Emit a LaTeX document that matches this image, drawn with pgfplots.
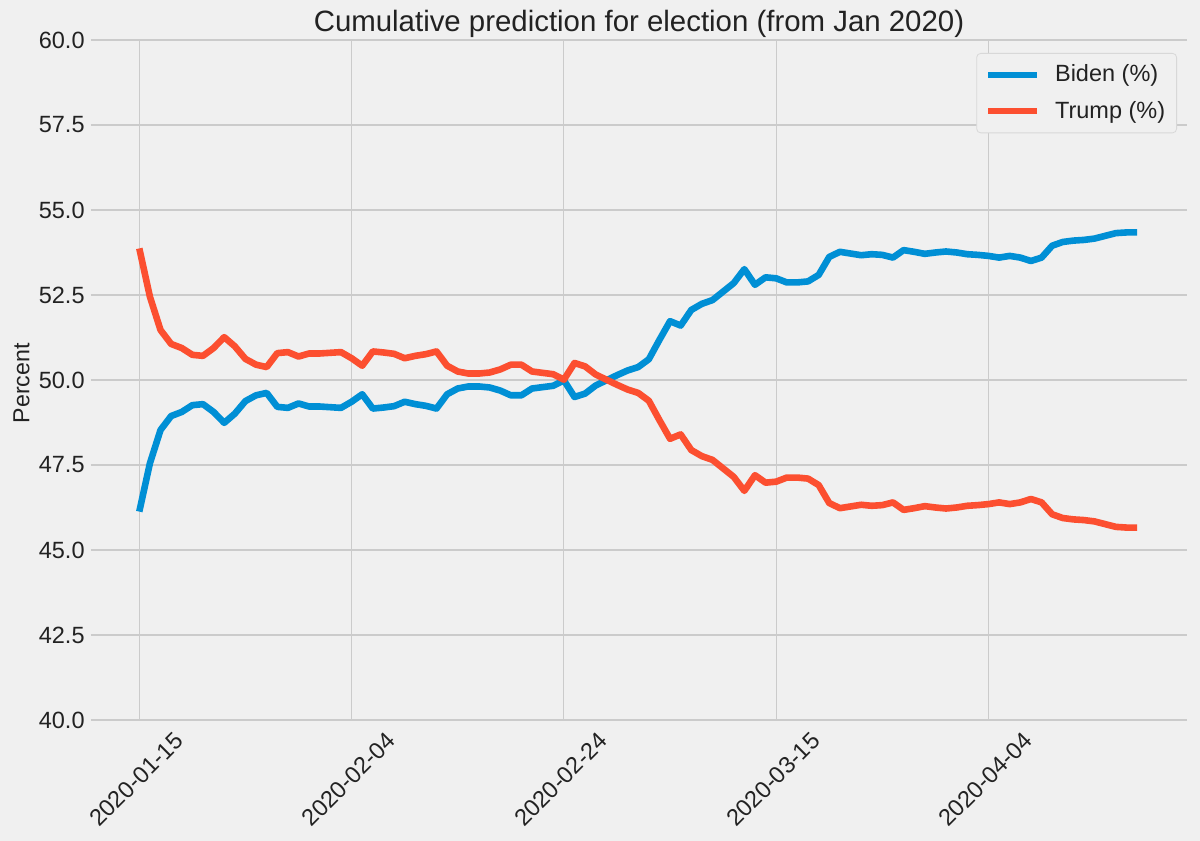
\documentclass[border=0pt]{standalone}
\usepackage{pgfplots}
\pgfplotsset{compat=1.18}
\usepackage{pgfplotstable}
\usepackage{fontspec}
\setmainfont{Liberation Sans}
\definecolor{bgc}{HTML}{F0F0F0}
\definecolor{gridc}{HTML}{CBCBCB}
\definecolor{biden}{HTML}{008FD5}
\definecolor{trump}{HTML}{FC4F30}
\definecolor{legc}{HTML}{D8D8D8}
\definecolor{txt}{HTML}{222222}

\pgfplotstableread{
x b t
0 46.13 53.87
1 47.55 52.45
2 48.53 51.47
3 48.94 51.06
4 49.06 50.94
5 49.26 50.74
6 49.29 50.71
7 49.06 50.94
8 48.74 51.26
9 49.01 50.99
10 49.38 50.62
11 49.55 50.45
12 49.62 50.38
13 49.21 50.79
14 49.18 50.82
15 49.31 50.69
16 49.22 50.78
17 49.22 50.78
18 49.20 50.80
19 49.18 50.82
20 49.36 50.64
21 49.58 50.42
22 49.16 50.84
23 49.19 50.81
24 49.23 50.77
25 49.36 50.64
26 49.29 50.71
27 49.24 50.76
28 49.16 50.84
29 49.58 50.42
30 49.75 50.25
31 49.81 50.19
32 49.81 50.19
33 49.78 50.22
34 49.69 50.31
35 49.55 50.45
36 49.55 50.45
37 49.75 50.25
38 49.79 50.21
39 49.83 50.17
40 49.99 50.01
41 49.50 50.50
42 49.60 50.40
43 49.84 50.16
44 49.99 50.01
45 50.14 49.86
46 50.28 49.72
47 50.38 49.62
48 50.61 49.39
49 51.18 48.82
50 51.73 48.27
51 51.60 48.40
52 52.06 47.94
53 52.24 47.76
54 52.35 47.65
55 52.60 47.40
56 52.85 47.15
57 53.26 46.74
58 52.80 47.20
59 53.02 46.98
60 52.99 47.01
61 52.87 47.13
62 52.87 47.13
63 52.90 47.10
64 53.09 46.91
65 53.62 46.38
66 53.77 46.23
67 53.72 46.28
68 53.67 46.33
69 53.70 46.30
70 53.68 46.32
71 53.60 46.40
72 53.82 46.18
73 53.77 46.23
74 53.71 46.29
75 53.75 46.25
76 53.78 46.22
77 53.75 46.25
78 53.70 46.30
79 53.68 46.32
80 53.65 46.35
81 53.60 46.40
82 53.65 46.35
83 53.60 46.40
84 53.50 46.50
85 53.60 46.40
86 53.95 46.05
87 54.06 45.94
88 54.10 45.90
89 54.12 45.88
90 54.16 45.84
91 54.24 45.76
92 54.32 45.68
93 54.34 45.66
94 54.34 45.66
}\datatable

\begin{document}
\begin{tikzpicture}
\path[use as bounding box, fill=bgc] (0,0) rectangle (600pt,420.5pt);
\begin{axis}[
  at={(45.5pt,60.5pt)}, anchor=south west,
  scale only axis, width=548pt, height=340pt,
  xmin=-4.55, xmax=98.7, ymin=40, ymax=60,
  axis line style={draw=none},
  tick style={draw=none},
  major tick length=0pt,
  grid=major,
  grid style={color=gridc, line width=0.6pt},
  xtick={0,20,40,60,80},
  xticklabels={2020-01-15,2020-02-04,2020-02-24,2020-03-15,2020-04-04},
  ytick={40,42.5,45,47.5,50,52.5,55,57.5,60},
  /pgf/number format/assume math mode=true,
  yticklabel={\pgfmathprintnumber[fixed,fixed zerofill,precision=1]{\tick}},
  tick label style={font=\fontsize{11.75}{14}\selectfont, text=txt},
  yticklabel style={anchor=east, inner sep=0pt, xshift=-3pt},
  xticklabel style={yshift=-29.75pt, xshift=-1.5pt, rotate=45, anchor=center, inner sep=0pt},
  title={Cumulative prediction for election (from Jan 2020)},
  title style={font=\fontsize{14.7}{17}\selectfont, text=txt, at={(axis description cs:0.5,1)}, anchor=base, yshift=-1.9pt},
  ylabel={Percent},
  ylabel style={font=\fontsize{11.6}{14}\selectfont, text=txt, at={(axis description cs:-0.0633,0.4951)}, anchor=center},
  legend image code/.code={\draw[#1, line width=3pt] (0pt,0pt) -- (24.5pt,0pt);},
  legend cell align=left,
  legend style={at={(axis description cs:1,1)}, anchor=north east, xshift=-5pt, yshift=-6.5pt,
    draw=legc, rounded corners=2pt, fill=bgc, text=txt,
    font=\fontsize{11.75}{14}\selectfont,
    inner xsep=4.2pt, inner ysep=4.2pt, row sep=5.3pt, column sep=6pt,
    nodes={inner sep=1.5pt}},
]
\addplot[biden, line width=3.3pt, line join=round] table[x=x, y=b] {\datatable};
\addlegendentry{Biden (\%)}
\addplot[trump, line width=3.3pt, line join=round] table[x=x, y=t] {\datatable};
\addlegendentry{Trump (\%)}
\end{axis}
\end{tikzpicture}
\end{document}
